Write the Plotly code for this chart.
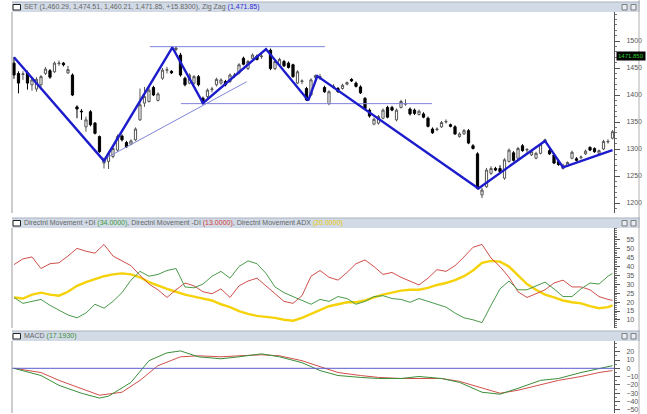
import plotly.graph_objects as go

W, H = 647, 414

# ---------------- price data (candle index, OHLC) ----------------
OPEN = [1459,1440,1438,1441,1419,1411,1419,1440,1445,1443,1458,1459,1441,1437,1378,1370,1341,1369,1348,1323,
        1274,1277,1286,1298,1324,1312,1309,1317,1354,1385,1388,1414,1390,1431,1446,1444,1484,1474,1431,1422,
        1422,1434,1394,1397,1410,1419,1422,1425,1425,1436,1441,1468,1449,1468,1472,1471,1484,1483,1449,1456,
        1462,1459,1456,1422,1425,1412,1400,1432,1432,1414,1384,1415,1412,1412,1420,1429,1422,1415,1394,1372,
        1346,1348,1357,1377,1377,1354,1377,1383,1374,1372,1364,1365,1357,1337,1336,1341,1350,1345,1341,1323,
        1328,1334,1306,1291,1215,1230,1255,1264,1264,1246,1277,1293,1283,1306,1298,1289,1283,1292,1313,1297,
        1289,1277,1264,1269,1283,1282,1284,1291,1303,1301,1292,1300,1313,1320]
HIGH = [1470,1444,1444,1445,1432,1433,1437,1452,1448,1462,1464,1461,1454,1440,1381,1374,1360,1372,1350,1325,
        1284,1296,1305,1327,1327,1315,1318,1340,1412,1415,1418,1417,1405,1450,1452,1446,1490,1478,1434,1440,
        1437,1437,1397,1412,1415,1432,1431,1428,1440,1441,1459,1471,1465,1477,1475,1477,1487,1486,1465,1469,
        1465,1462,1458,1446,1429,1415,1431,1438,1439,1417,1409,1420,1415,1421,1425,1431,1425,1418,1396,1375,
        1358,1363,1375,1380,1380,1375,1391,1392,1377,1375,1373,1368,1360,1340,1340,1352,1355,1347,1344,1331,
        1337,1337,1309,1294,1228,1265,1268,1267,1270,1283,1301,1296,1304,1309,1302,1298,1295,1311,1319,1300,
        1292,1280,1273,1277,1297,1285,1288,1299,1305,1303,1299,1317,1318,1335]
LOW = [1430,1403,1428,1410,1408,1406,1415,1437,1430,1441,1454,1453,1439,1398,1357,1354,1332,1342,1327,1293,
       1264,1263,1283,1295,1314,1302,1307,1315,1352,1378,1386,1398,1388,1428,1440,1439,1481,1434,1416,1420,
       1419,1416,1383,1394,1405,1416,1419,1416,1422,1432,1438,1455,1446,1466,1464,1467,1481,1446,1446,1453,
       1452,1449,1432,1420,1420,1389,1398,1429,1428,1404,1381,1412,1404,1410,1418,1424,1414,1402,1373,1358,
       1344,1345,1355,1357,1370,1351,1375,1380,1362,1363,1362,1357,1340,1328,1333,1339,1347,1340,1326,1321,
       1326,1309,1299,1225,1209,1228,1252,1259,1255,1243,1275,1277,1281,1295,1293,1287,1281,1290,1311,1289,
       1272,1269,1262,1267,1281,1277,1281,1289,1296,1293,1290,1298,1310,1318]
CLOSE = [1437,1422,1439,1422,1428,1429,1434,1448,1433,1459,1459,1456,1447,1400,1374,1369,1354,1345,1329,1295,
         1280,1292,1301,1323,1317,1304,1315,1337,1382,1397,1409,1400,1402,1446,1447,1441,1487,1437,1419,1437,
         1434,1419,1385,1409,1411,1429,1428,1419,1437,1437,1456,1457,1462,1474,1466,1472,1483,1449,1462,1466,
         1454,1451,1434,1443,1426,1391,1428,1436,1434,1406,1406,1416,1406,1418,1423,1426,1416,1404,1375,1361,
         1355,1360,1372,1359,1372,1372,1388,1384,1365,1366,1370,1359,1342,1330,1337,1349,1351,1342,1328,1328,
         1334,1311,1301,1227,1224,1261,1264,1261,1258,1280,1298,1279,1301,1297,1299,1295,1292,1308,1317,1291,
         1274,1271,1270,1275,1294,1279,1285,1296,1298,1295,1297,1314,1314,1332]
IDX = list(range(len(CLOSE)))

# zig zag pivots
ZZ_IDX = [0, 20, 35.2, 42, 56, 65.4, 67.4, 103.2, 118, 122, 133]
ZZ_VAL = [1470, 1278, 1488, 1385, 1485, 1390, 1435, 1227, 1315, 1266, 1298]
# drawn study lines (index, price)
TOP_LINE_IDX = [30.2, 69.1]
TOP_LINE_VAL = [1489.5, 1489.5]
BOT_LINE_IDX = [37.1, 92.9]
BOT_LINE_VAL = [1384, 1384]
TREND_IDX = [20.2, 51.7]
TREND_VAL = [1282, 1424.6]
LAST_PRICE = 1471.85
PRICE_TICKS = [1200, 1250, 1300, 1350, 1400, 1450, 1500]

# ---------------- directional movement ----------------
DI_IDX = list(range(0, 133, 2)) + [133]
PLUS_DI = [22.6,19.3,20.4,21.5,18.2,15.5,12.8,11.2,13.9,18.8,
           16.6,20.4,25.3,32.3,37.2,34.5,35.5,37.7,38.8,28.5,
           28,30.1,34.5,37.2,33.4,39.9,43.1,41.5,36.1,28.5,
           25.3,23.1,20.9,18.8,21.5,20.4,23.1,22,18.8,20.4,
           23.1,23.6,22,21.5,19.9,22,20.4,18.8,17.2,13.9,
           11.2,10.1,8.5,18.2,27.4,31.8,26.9,26.9,29.1,31.2,
           27.4,23.1,23.1,27.4,30.7,30.1,34.5,36.1]
MINUS_DI = [41,44.2,45.3,38.8,41.5,42,45.8,50.1,48.5,47.4,
            52.3,45.8,43.1,40.4,35,30.1,26.9,22.6,26.9,30.7,
            29.1,25.8,24.7,27.4,22.6,29.1,31.8,33.4,29.1,24.7,
            20.4,19.3,23.6,34.5,37.7,33.9,32.3,36.6,41.5,43.6,
            39.9,35.5,36.6,33.9,31.8,29.6,33.4,38.2,37.2,40.4,
            45.3,50.7,52.3,44.7,39.9,33.9,25.8,22.6,24.7,26.9,
            30.7,32.3,28.5,28.5,26.9,23.1,21.5,21]
ADX = [22.6,22,24.2,25.3,24.2,23.6,25.8,29.1,31.2,32.8,
       34.5,35.5,36.1,35.5,33.9,31.2,29.1,27.4,25.8,24.2,
       23.1,22,20.9,18.8,17.2,15,13.4,12.3,11.8,11.2,
       10.1,9.6,11.2,13.4,15.5,17.7,18.8,19.9,19.9,20.9,
       22.6,24.2,25.3,26.4,26.9,26.9,28,29.6,30.7,32.3,
       34.5,37.7,42,43.1,42.6,39.9,35,30.1,26.9,24.2,
       22.6,20.9,19.9,19.3,17.7,16.6,17.2,18.2]
DI_TICKS = [10, 15, 20, 25, 30, 35, 40, 45, 50, 55]

# ---------------- MACD ----------------
MACD_IDX = [0,6,10,15,19,21,26,30,34,37,41,46,50,55,59,64,68,72,77,81,86,90,95,99,104,108,112,117,121,126,130,133]
MACD_LINE = [0,-8.7,-20.6,-30.1,-36,-33.7,-17,9.2,18.7,21,13.9,11.5,13.9,17.5,13.9,6.8,-2.7,-8.7,-11,-12.3,
             -12.3,-9.9,-12.3,-17,-28.9,-31.3,-24.2,-14.6,-12.3,-5.1,-0.4,3.2]
SIG_IDX = [0,6,10,15,19,24,28,32,37,41,46,50,55,59,64,68,72,77,81,86,90,95,99,104,108,112,117,121,126,130,133]
SIGNAL = [0,-5.1,-14.6,-24.2,-32.5,-28.9,-14.6,3.2,13.9,15.1,13.9,15.1,16.3,15.1,9.2,2,-5.1,-8.7,-11,-12.3,
          -12.3,-12.3,-15.8,-24.2,-30.1,-26.5,-19.4,-14.6,-9.9,-5.1,-2.7]
MACD_ZERO = 0
MACD_TICKS = [-50, -40, -30, -20, -10, 0, 10, 20]

# ---------------- layout helpers (pixels -> paper) ----------------
def px(x):
    return x / W

def py(y):
    return 1 - y / H

FONT = "Liberation Sans Narrow, Liberation Sans, Arial, sans-serif"
XL, XR = 12, 614
XRANGE = [-0.44, 133.33]

fig = go.Figure()

fig.add_trace(go.Candlestick(
    x=IDX, open=OPEN, high=HIGH, low=LOW, close=CLOSE,
    increasing=dict(line=dict(color="#555555", width=1), fillcolor="#ffffff"),
    decreasing=dict(line=dict(color="#000000", width=1), fillcolor="#000000"),
    whiskerwidth=0, showlegend=False, hoverinfo="skip", xaxis="x", yaxis="y"))

line_color = "#7f84d9"
for xs, ys in [(TOP_LINE_IDX, TOP_LINE_VAL), (BOT_LINE_IDX, BOT_LINE_VAL), (TREND_IDX, TREND_VAL)]:
    fig.add_trace(go.Scatter(x=xs, y=ys, mode="lines", line=dict(color=line_color, width=1),
                             showlegend=False, hoverinfo="skip", xaxis="x", yaxis="y"))

fig.add_trace(go.Scatter(x=ZZ_IDX, y=ZZ_VAL, mode="lines", line=dict(color="#1c1ccc", width=2.4),
                         showlegend=False, hoverinfo="skip", xaxis="x", yaxis="y"))

fig.add_trace(go.Scatter(x=DI_IDX, y=ADX, mode="lines", line=dict(color="#f5d20a", width=2.4),
                         showlegend=False, hoverinfo="skip", xaxis="x2", yaxis="y2"))
fig.add_trace(go.Scatter(x=DI_IDX, y=MINUS_DI, mode="lines", line=dict(color="#d0504a", width=1),
                         showlegend=False, hoverinfo="skip", xaxis="x2", yaxis="y2"))
fig.add_trace(go.Scatter(x=DI_IDX, y=PLUS_DI, mode="lines", line=dict(color="#4a9a4a", width=1),
                         showlegend=False, hoverinfo="skip", xaxis="x2", yaxis="y2"))

fig.add_trace(go.Scatter(x=SIG_IDX, y=SIGNAL, mode="lines", line=dict(color="#d0504a", width=1),
                         showlegend=False, hoverinfo="skip", xaxis="x3", yaxis="y3"))
fig.add_trace(go.Scatter(x=MACD_IDX, y=MACD_LINE, mode="lines", line=dict(color="#3a8f3a", width=1),
                         showlegend=False, hoverinfo="skip", xaxis="x3", yaxis="y3"))

# panels: (top px, bottom px)
P1 = (12, 213)
P2 = (228, 328)
P3 = (341, 413)

xax = dict(domain=[px(XL), px(XR)], range=XRANGE, showgrid=False, zeroline=False,
           showticklabels=False, ticks="", showline=False, rangeslider=dict(visible=False), fixedrange=True)

def yax(dom, rng, ticks, minor):
    return dict(domain=[py(dom[1]), py(dom[0])], range=rng, side="right", showgrid=False, zeroline=False,
                tickvals=ticks, ticks="outside", ticklen=5, tickwidth=1, tickcolor="#555555",
                minor=dict(dtick=minor, ticks="outside", ticklen=2, tickcolor="#777777", tick0=0),
                showline=True, linecolor="#555555", linewidth=1,
                tickfont=dict(family=FONT, size=7, color="#555555"), ticklabelstandoff=5, fixedrange=True)

fig.update_layout(
    width=W, height=H, autosize=False, margin=dict(l=0, r=0, t=0, b=0),
    paper_bgcolor="#ffffff", plot_bgcolor="#ffffff", showlegend=False,
    xaxis=dict(xax, anchor="y"),
    xaxis2=dict(xax, anchor="y2", matches="x"),
    xaxis3=dict(xax, anchor="y3", matches="x"),
    yaxis=dict(yax(P1, [1181.5, 1553.7], PRICE_TICKS, 10), anchor="x"),
    yaxis2=dict(yax(P2, [5.5, 61.5], DI_TICKS, 1), anchor="x2"),
    yaxis3=dict(yax(P3, [-54, 33], MACD_TICKS, 5), anchor="x3"),
)

shapes = []
annotations = []
# MACD zero line
shapes.append(dict(type="line", xref="x3 domain", yref="y3", x0=0, x1=1, y0=MACD_ZERO, y1=MACD_ZERO,
                   line=dict(color="#5a5acf", width=1)))
# panel left borders and window frame
for top, bot in [P1, P2, P3]:
    shapes.append(dict(type="line", xref="paper", yref="paper", x0=px(XL), x1=px(XL), y0=py(bot), y1=py(top),
                       line=dict(color="#9a9a9a", width=1)))
shapes.append(dict(type="line", xref="paper", yref="paper", x0=px(639), x1=px(639), y0=0, y1=1,
                   line=dict(color="#b0b0b0", width=1)))

# title bars
bars = [(2, 12, "SET (1,460.29, 1,474.51, 1,460.21, 1,471.85, +15.8300), Zig Zag <span style='color:#2b2bd6'>(1,471.85)</span>"),
        (218, 228, "Directnl Movement +DI <span style='color:#3a9a3a'>(34.0000)</span>, Directnl Movement -DI "
                   "<span style='color:#d23a3a'>(13.0000)</span>, Directnl Movement ADX <span style='color:#e8c800'>(20.0000)</span>"),
        (331, 341, "MACD <span style='color:#3a8f3a'>(17.1930)</span>")]
for top, bot, txt in bars:
    shapes.append(dict(type="rect", xref="paper", yref="paper", x0=px(12), x1=px(640), y0=py(bot), y1=py(top),
                       fillcolor="#d2dae6", line=dict(width=0), layer="below"))
    shapes.append(dict(type="line", xref="paper", yref="paper", x0=px(12), x1=px(640), y0=py(top), y1=py(top),
                       line=dict(color="#a9b2c0", width=1)))
    shapes.append(dict(type="rect", xref="paper", yref="paper", x0=px(13), x1=px(20.5), y0=py(bot - 2), y1=py(top + 2.5),
                       fillcolor="#ffffff", line=dict(color="#222222", width=1)))
    for ix in (622, 631):
        shapes.append(dict(type="rect", xref="paper", yref="paper", x0=px(ix), x1=px(ix + 5), y0=py(bot - 2),
                           y1=py(top + 2.5), fillcolor="#e8ecf2", line=dict(color="#666666", width=0.8)))
    annotations.append(dict(xref="paper", yref="paper", x=px(22), y=py((top + bot) / 2), xanchor="left",
                            yanchor="middle", text=txt, showarrow=False,
                            font=dict(family=FONT, size=7, color="#666666")))

# last price label on the axis
annotations.append(dict(xref="paper", yref="y", x=px(616), y=LAST_PRICE, xanchor="left", yanchor="middle",
                        text="1471.850", showarrow=False, bgcolor="#000000", borderpad=1,
                        font=dict(family=FONT, size=6, color="#2bd12b")))

fig.update_layout(shapes=shapes, annotations=annotations)
fig.write_html("out.html", config={"displayModeBar": False})
